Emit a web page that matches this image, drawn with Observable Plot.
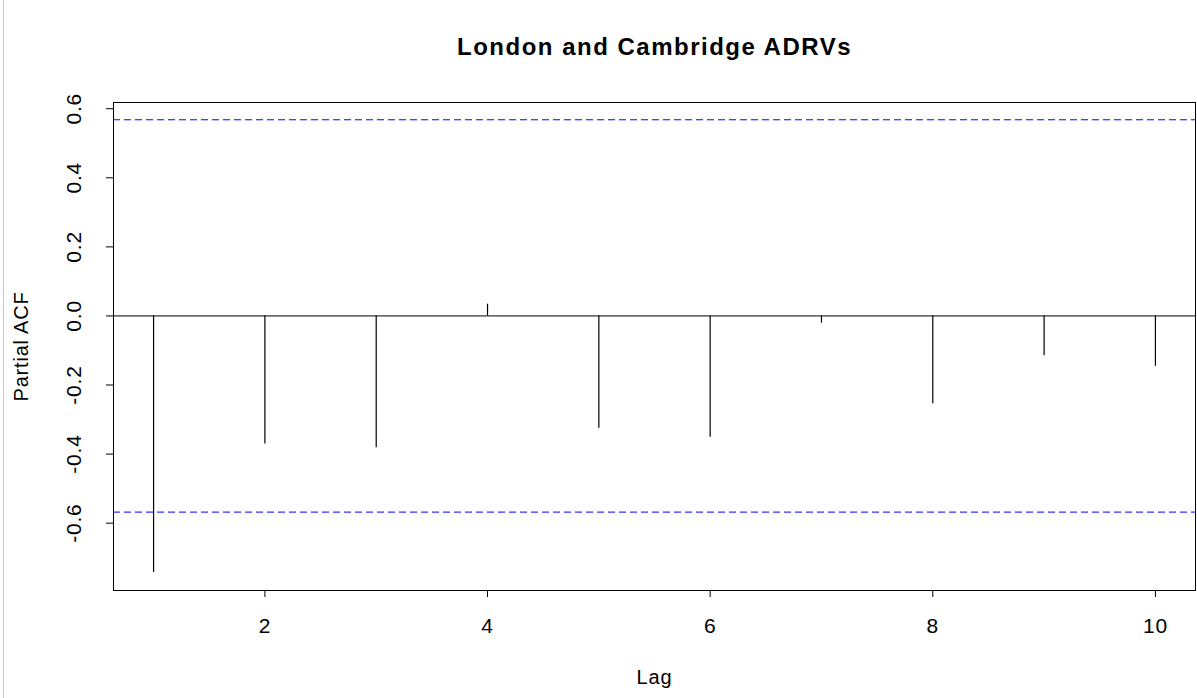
<!DOCTYPE html>
<html>
<head>
<meta charset="utf-8">
<script src="https://cdn.jsdelivr.net/npm/d3@7"></script>
<script src="https://cdn.jsdelivr.net/npm/@observablehq/plot@0.6"></script>
<style>
  html, body { margin: 0; padding: 0; background: #fff; }
  #wrap { position: relative; width: 1197px; height: 698px; overflow: hidden; }
  #edge { position: absolute; left: 3px; top: 0; width: 1px; height: 698px; background: #c8c8c8; }
  svg { font-family: "Liberation Sans", Arial, sans-serif; }
  #wrap svg text { letter-spacing: 0.8px; }
  #wrap svg g[font-weight="bold"] text { letter-spacing: 1.5px; }
</style>
</head>
<body>
<div id="wrap"><div id="edge"></div></div>
<script>
const chartTitle = "London and Cambridge ADRVs";
const xLabel = "Lag";
const yLabel = "Partial ACF";
const lags = [1, 2, 3, 4, 5, 6, 7, 8, 9, 10];
const pacf = [-0.743, -0.371, -0.382, 0.034, -0.325, -0.351, -0.021, -0.254, -0.115, -0.146];
const confLimit = 0.568;
const xTicks = [2, 4, 6, 8, 10];
const yTicks = [-0.6, -0.4, -0.2, 0.0, 0.2, 0.4, 0.6];

const rows = lags.map((lag, i) => ({lag, value: pacf[i]}));
const fmt = d => (Math.abs(d) < 1e-9 ? 0 : d).toFixed(1);

const chart = Plot.plot({
  width: 1197,
  height: 698,
  marginTop: 102,
  marginBottom: 108,
  marginLeft: 113,
  marginRight: 2,
  style: {fontFamily: '"Liberation Sans", Arial, sans-serif', fontSize: "20px", color: "#000", background: "#fff"},
  x: {domain: [0.64, 10.36]},
  y: {domain: [-0.795, 0.618]},
  marks: [
    Plot.axisX({ticks: xTicks, tickSize: 7, tickPadding: 21, tickFormat: d => String(d), label: null, fontSize: 21, stroke: "#000"}),
    Plot.axisY({ticks: yTicks, tickSize: 7, tickFormat: () => "", label: null, stroke: "#000"}),
    Plot.text(yTicks, {y: d => d, text: d => fmt(d), frameAnchor: "left", dx: -33, rotate: -90, textAnchor: "middle", lineAnchor: "bottom", fontSize: 21, fill: "#000"}),
    Plot.text([yLabel], {text: d => d, frameAnchor: "left", dx: -86, rotate: -90, textAnchor: "middle", lineAnchor: "bottom", fontSize: 20, fill: "#000"}),
    Plot.text([xLabel], {text: d => d, frameAnchor: "bottom", dy: 93, textAnchor: "middle", lineAnchor: "bottom", fontSize: 20, fill: "#000"}),
    Plot.text([chartTitle], {text: d => d, frameAnchor: "top", dy: -48, textAnchor: "middle", lineAnchor: "bottom", fontSize: 24, fontWeight: "bold", fill: "#000"}),
    Plot.ruleY([0], {stroke: "#000", strokeWidth: 1}),
    Plot.ruleY([confLimit, -confLimit], {stroke: "#0000ff", strokeWidth: 1, strokeDasharray: "7,4"}),
    Plot.ruleX(rows, {x: "lag", y1: 0, y2: "value", stroke: "#000", strokeWidth: 1.2}),
    Plot.frame({stroke: "#000", strokeWidth: 1})
  ]
});
document.getElementById("wrap").appendChild(chart);
</script>
</body>
</html>
